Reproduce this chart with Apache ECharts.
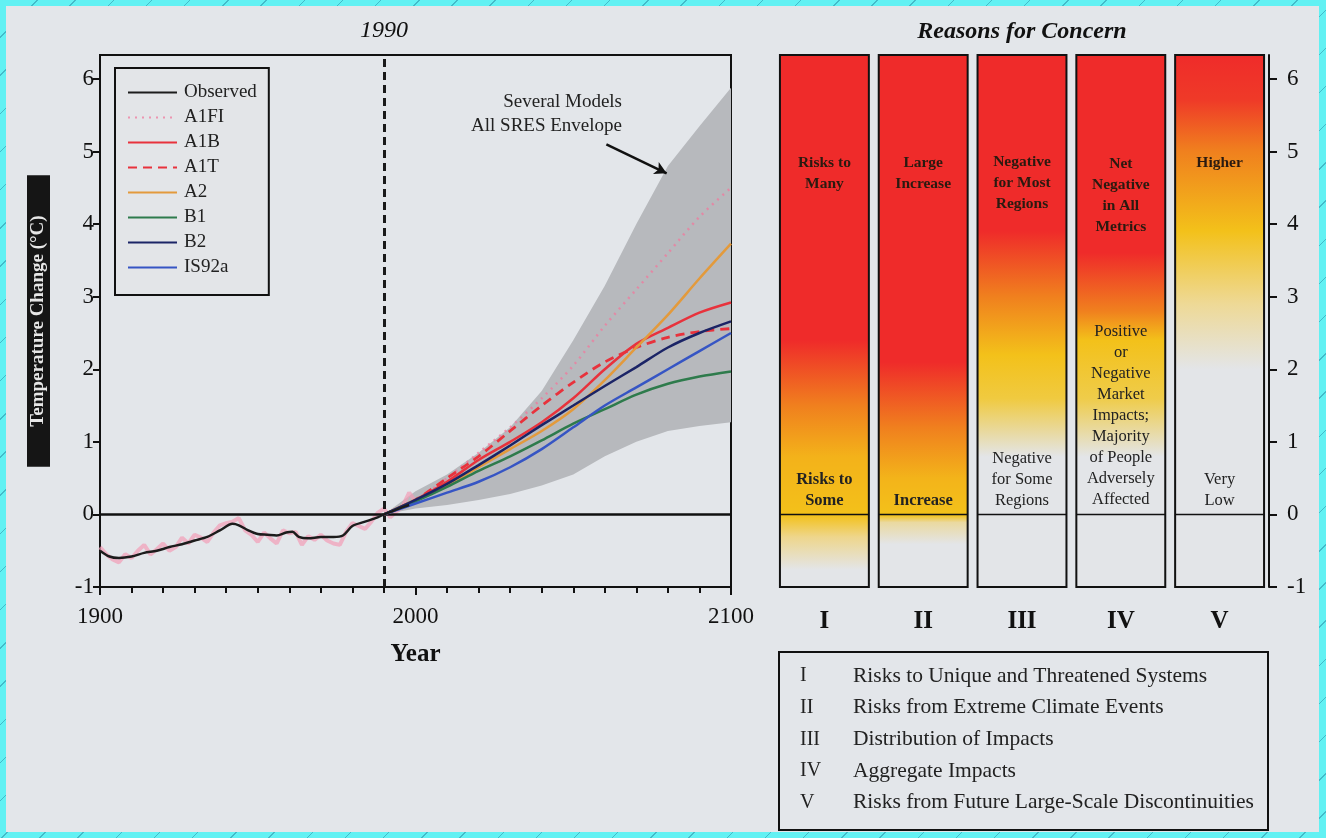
<!DOCTYPE html>
<html><head><meta charset="utf-8">
<script src="https://cdn.jsdelivr.net/npm/echarts@6/dist/echarts.min.js"></script>
<style>
html,body{margin:0;padding:0;}
body{width:1326px;height:838px;position:relative;overflow:hidden;background:#62f1f3;
 background-image:repeating-linear-gradient(135deg, rgba(30,120,150,0) 0px, rgba(30,120,150,0) 26px, rgba(30,120,150,0.45) 26px, rgba(30,120,150,0.45) 27px);}
#frame{position:absolute;left:6px;top:6px;width:1313px;height:826px;background:#e3e6ea;}
#chart{position:absolute;left:0;top:0;width:1326px;height:838px;}
</style></head>
<body><div id="frame"></div><div id="chart"></div>
<script>
// ---------- data ----------
const obsYears = [1900,1903,1906,1910,1914,1918,1922,1926,1930,1934,1938,1942,1944,1947,1950,1953,1956,1959,1961,1963,1966,1970,1974,1977,1980,1984,1988,1990,1993,1996,1998];
const obsSmooth = [-0.50,-0.58,-0.60,-0.58,-0.53,-0.50,-0.45,-0.41,-0.36,-0.31,-0.22,-0.13,-0.15,-0.22,-0.27,-0.28,-0.29,-0.25,-0.24,-0.31,-0.33,-0.31,-0.31,-0.29,-0.16,-0.10,-0.04,0.00,0.05,0.10,0.13];
const annualYears = [1900,1902,1904,1906,1908,1910,1912,1914,1916,1918,1920,1922,1924,1926,1928,1930,1932,1934,1936,1938,1940,1942,1944,1946,1948,1950,1952,1954,1956,1958,1960,1962,1964,1966,1968,1970,1972,1974,1976,1978,1980,1982,1984,1986,1988,1990,1992,1994,1996,1998,2000];
const annualObs = [-0.45,-0.55,-0.62,-0.66,-0.55,-0.60,-0.50,-0.42,-0.55,-0.48,-0.40,-0.50,-0.45,-0.32,-0.40,-0.28,-0.32,-0.38,-0.25,-0.15,-0.12,-0.10,-0.05,-0.22,-0.28,-0.38,-0.25,-0.33,-0.40,-0.22,-0.26,-0.24,-0.42,-0.30,-0.35,-0.28,-0.36,-0.40,-0.42,-0.24,-0.12,-0.16,-0.20,-0.10,0.02,0.08,-0.04,0.04,0.12,0.30,0.18];

const projYears = [1990,2000,2010,2020,2030,2040,2050,2060,2070,2080,2090,2100];
const A1FI  = [0,0.20,0.50,0.85,1.20,1.60,2.05,2.60,3.10,3.60,4.10,4.50];
const A1B   = [0,0.20,0.45,0.75,1.00,1.27,1.60,2.00,2.35,2.57,2.78,2.92];
const A1T   = [0,0.20,0.50,0.80,1.15,1.50,1.82,2.10,2.30,2.44,2.52,2.56];
const A2    = [0,0.20,0.40,0.65,0.90,1.15,1.45,1.85,2.30,2.75,3.25,3.73];
const B1    = [0,0.18,0.38,0.60,0.80,1.02,1.25,1.45,1.65,1.80,1.90,1.97];
const B2    = [0,0.20,0.42,0.68,0.95,1.23,1.50,1.77,2.03,2.30,2.50,2.66];
const IS92a = [0,0.15,0.30,0.45,0.65,0.90,1.20,1.50,1.75,2.00,2.25,2.50];
const envUpper = [0,0.32,0.55,0.85,1.20,1.70,2.40,3.15,4.00,4.80,5.35,5.88];
const envLower = [0,0.08,0.13,0.20,0.28,0.40,0.55,0.80,1.00,1.15,1.22,1.27];

const yTicks = [-1,0,1,2,3,4,5,6];
const xTicks = [1900,2000,2100];

const concernCats = ['I','II','III','IV','V'];
const concernTop = ['Risks to\nMany','Large\nIncrease','Negative\nfor Most\nRegions','Net\nNegative\nin All\nMetrics','Higher'];
const concernTopLevel = [4.70,4.70,4.57,4.40,4.84];
const concernBottom = ['Risks to\nSome','Increase','Negative\nfor Some\nRegions','Positive\nor\nNegative\nMarket\nImpacts;\nMajority\nof People\nAdversely\nAffected','Very\nLow'];
const concernBottomLevel = [0.33,0.19,0.48,1.36,0.33];
const concernDesc = ['Risks to Unique and Threatened Systems','Risks from Extreme Climate Events','Distribution of Impacts','Aggregate Impacts','Risks from Future Large-Scale Discontinuities'];

// ---------- styles ----------
const RED='#ef2b2a', ORG='#f0801e', YEL='#f3c11a', BG='#e3e5e8';
const concernStops = [
  [[6.4,RED],[2.4,RED],[1.5,ORG],[0.8,'#f3b21a'],[0.0,YEL],[-0.3,'#eed68c'],[-0.75,BG]],
  [[6.4,RED],[2.1,RED],[1.2,ORG],[0.5,'#f3b41a'],[0.0,YEL],[-0.1,'#ead9a0'],[-0.4,BG]],
  [[6.4,RED],[3.9,RED],[3.0,ORG],[2.2,YEL],[1.6,'#f0ca40'],[0.8,BG],[-1,BG]],
  [[6.4,RED],[3.6,RED],[2.8,ORG],[2.4,YEL],[1.6,'#efcc4a'],[0.8,BG],[-1,BG]],
  [[6.4,RED],[5.7,'#ef3a28'],[5.0,ORG],[3.9,YEL],[2.9,'#eed996'],[2.0,BG],[-1,BG]]
];
const bottomWeight = ['bold','bold','normal','normal','normal'];
const SERIF = '"Liberation Serif","DejaVu Serif",serif';
const YMAX = 6.33;

const chart = echarts.init(document.getElementById('chart'), null, {renderer:'canvas'});

function pairs(xs, ys){ return xs.map((x,i)=>[x, ys[i]]); }
function proj(name, vals, color, type, width, opacity){
  return {name, type:'line', xAxisIndex:0, yAxisIndex:0, data:pairs(projYears, vals), symbol:'none', smooth:0.3,
    lineStyle:{color, width: width||2.5, type: type||'solid', opacity: opacity||1}, itemStyle:{color}, z:5};
}

const option = {
  animation:false,
  grid:[
    {left:100, right:595, top:55, bottom:251, show:true, borderColor:'#111', borderWidth:2, backgroundColor:'transparent'},
    {left:775, right:57, top:55, bottom:251, show:false}
  ],
  xAxis:[
    {type:'value', gridIndex:0, min:1900, max:2100, interval:100,
     axisLine:{onZero:false, lineStyle:{color:'#111', width:2}},
     axisTick:{show:true, length:8, lineStyle:{color:'#111', width:2}},
     minorTick:{show:true, splitNumber:10, length:6, lineStyle:{color:'#111', width:2}},
     splitLine:{show:false},
     axisLabel:{fontFamily:SERIF, fontSize:23, color:'#111', margin:18, formatter:v=>xTicks.includes(v)?String(v):''},
     name:'Year', nameLocation:'middle', nameGap:55,
     nameTextStyle:{fontFamily:SERIF, fontSize:25, fontWeight:'bold', color:'#111'}},
    {type:'category', gridIndex:1, data:concernCats, boundaryGap:true,
     axisLine:{show:false, onZero:false}, axisTick:{show:false},
     axisLabel:{fontFamily:SERIF, fontSize:25, fontWeight:'bold', color:'#111', margin:22}}
  ],
  yAxis:[
    {type:'value', gridIndex:0, min:-1, max:YMAX, interval:1,
     axisLine:{show:true, onZero:false, lineStyle:{color:'#111', width:2}},
     axisTick:{show:true, length:7, customValues:yTicks, lineStyle:{color:'#111', width:2}},
     splitLine:{show:false},
     axisLabel:{fontFamily:SERIF, fontSize:23, color:'#111', margin:6, customValues:yTicks, formatter:v=>String(v)},
     name:'Temperature Change (°C)', nameLocation:'middle', nameRotate:90, nameGap:50,
     nameTextStyle:{fontFamily:SERIF, fontSize:19, fontWeight:'bold', color:'#e6e6e6', backgroundColor:'#151515', padding:[2,40]}},
    {type:'value', gridIndex:1, position:'right', min:-1, max:YMAX, interval:1,
     axisLine:{show:true, onZero:false, lineStyle:{color:'#111', width:2}},
     axisTick:{show:true, length:8, customValues:yTicks, lineStyle:{color:'#111', width:2}},
     splitLine:{show:false},
     axisLabel:{fontFamily:SERIF, fontSize:23, color:'#111', margin:18, customValues:yTicks, formatter:v=>String(v)}}
  ],
  legend:{
    left:115, top:68, orient:'vertical', itemWidth:49, itemHeight:12, itemGap:6,
    padding:[15,12,18,12], borderColor:'#111', borderWidth:2, backgroundColor:BG,
    itemStyle:{opacity:0},
    textStyle:{fontFamily:SERIF, fontSize:19, lineHeight:19, color:'#222', padding:[0,0,0,2]},
    data:['Observed','A1FI','A1B','A1T','A2','B1','B2','IS92a'],
    selectedMode:false
  },
  graphic:[
    {type:'text', x:622, y:102, style:{text:'Several Models', font:'19px '+SERIF, fill:'#222', align:'right', verticalAlign:'middle'}},
    {type:'text', x:622, y:126, style:{text:'All SRES Envelope', font:'19px '+SERIF, fill:'#222', align:'right', verticalAlign:'middle'}},
    {type:'text', x:1022, y:32, style:{text:'Reasons for Concern', font:'italic bold 24px '+SERIF, fill:'#111', align:'center', verticalAlign:'middle'}},
    {type:'group', x:779, y:652, children:[
      {type:'rect', shape:{x:0,y:0,width:489,height:178}, style:{fill:'transparent', stroke:'#111', lineWidth:2}},
      ...concernCats.map((c,i)=>({type:'text', x:21, y:24+i*31.7, style:{text:c, font:'20px '+SERIF, fill:'#222', verticalAlign:'middle'}})),
      ...concernDesc.map((d,i)=>({type:'text', x:74, y:24+i*31.7, style:{text:d, font:'21.5px '+SERIF, fill:'#222', verticalAlign:'middle'}}))
    ]}
  ],
  series:[
    {name:'envelope', type:'custom', xAxisIndex:0, yAxisIndex:0, data:[[1990,0]], z:1, silent:true,
     renderItem:(params, api)=>{
       const up = projYears.map((y,k)=>api.coord([y, envUpper[k]]));
       const lo = projYears.map((y,k)=>api.coord([y, envLower[k]])).reverse();
       return {type:'polygon', shape:{points:up.concat(lo)}, style:{fill:'#b7b9bd'}};
     },
     markLine:{silent:true, symbol:['none','arrow'], symbolSize:[10,12], label:{show:false},
       lineStyle:{color:'#111', width:2.5, type:'solid'},
       data:[[{coord:[2060.5,5.10]},{coord:[2079.6,4.70]}]]}
    },
    {name:'annual', type:'line', xAxisIndex:0, yAxisIndex:0, data:pairs(annualYears, annualObs), symbol:'none',
     lineStyle:{color:'#f29cb6', width:4, opacity:0.7}, z:2, silent:true},
    {name:'Observed', type:'line', xAxisIndex:0, yAxisIndex:0, data:pairs(obsYears, obsSmooth), symbol:'none', smooth:0.3,
     lineStyle:{color:'#1c1c1c', width:2.5}, itemStyle:{color:'#1c1c1c'}, z:6,
     markLine:{silent:true, symbol:'none', animation:false,
       data:[
         {yAxis:0, lineStyle:{color:'#111', width:2.5, type:'solid'}, label:{show:false}},
         {xAxis:1990, lineStyle:{color:'#1a1a1a', width:3, type:[8,5]},
          label:{show:true, position:'end', formatter:'1990', distance:12, fontFamily:SERIF, fontStyle:'italic', fontSize:24, color:'#111'}}
       ]}
    },
    proj('A1FI', A1FI, '#f07a9e', [2,5], 2.5, 0.75),
    proj('A1B', A1B, '#e8323c'),
    proj('A1T', A1T, '#e8323c', [9,6], 2.8),
    proj('A2', A2, '#e39a3c'),
    proj('B1', B1, '#2e7b4c'),
    proj('B2', B2, '#1b2466'),
    proj('IS92a', IS92a, '#3655c4'),
    {name:'concern', type:'custom', xAxisIndex:1, yAxisIndex:1, data:concernCats.map((c,i)=>[i, 0]), encode:{x:0, y:1},
     renderItem:(params, api)=>{
       const i = params.dataIndex;
       const top = api.coord([i, YMAX]);
       const bot = api.coord([i, -1]);
       const w = api.size([1,0])[0]*0.9;
       const x = top[0]-w/2, h = bot[1]-top[1];
       const stops = concernStops[i].map(([v,c])=>({offset:Math.min(1,Math.max(0,(api.coord([i,v])[1]-top[1])/h)), color:c}));
       const zy = api.coord([i,0])[1];
       const t = api.coord([i, concernTopLevel[i]]);
       const b = api.coord([i, concernBottomLevel[i]]);
       return {type:'group', children:[
         {type:'rect', shape:{x, y:top[1], width:w, height:h},
          style:{fill:{type:'linear', x:0, y:0, x2:0, y2:1, colorStops:stops}, stroke:'#111', lineWidth:2}},
         {type:'line', shape:{x1:x, y1:zy, x2:x+w, y2:zy}, style:{stroke:'#111', lineWidth:1.5}},
         {type:'text', x:t[0], y:t[1], style:{text:concernTop[i], fill:'#2a1a10', font:'bold 15.5px '+SERIF, align:'center', verticalAlign:'middle', lineHeight:21}},
         {type:'text', x:b[0], y:b[1], style:{text:concernBottom[i], fill:'#222', font:bottomWeight[i]+' 16.5px '+SERIF, align:'center', verticalAlign:'middle', lineHeight:21}}
       ]};
     }
    }
  ]
};
chart.setOption(option);
</script>
</body></html>
